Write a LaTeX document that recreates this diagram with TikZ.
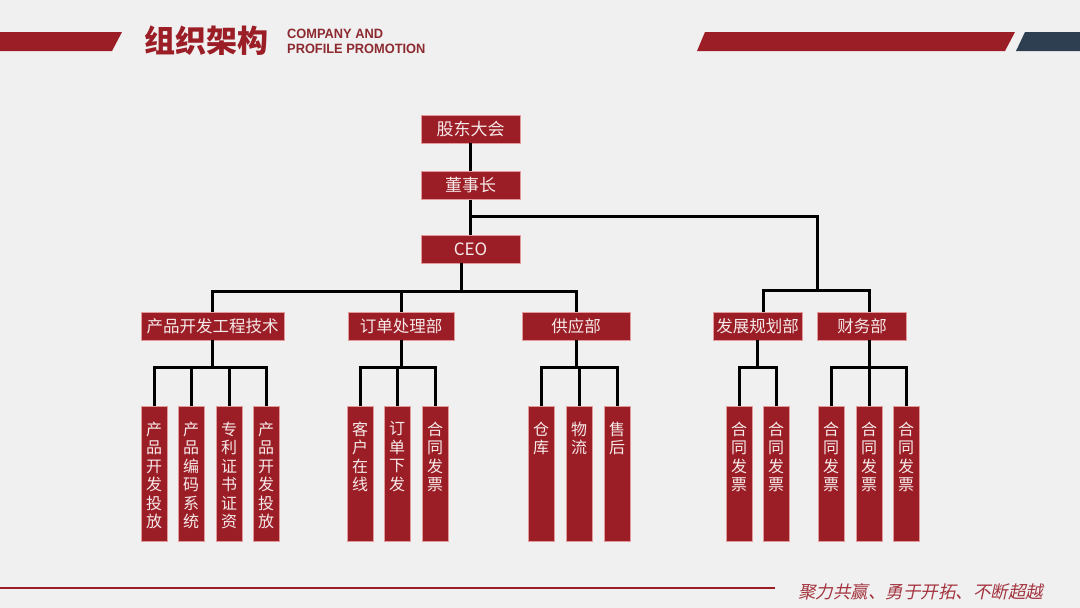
\documentclass[tikz,border=0pt]{standalone}
\usepackage{fontspec}
\setmainfont{Noto Sans CJK SC}
\newfontfamily\entitle[FakeStretch=0.95]{Liberation Sans}
\newfontfamily\slogan[FakeSlant=0.22]{Noto Sans CJK SC}
\usetikzlibrary{positioning}
\definecolor{page}{HTML}{F0F0F0}
\definecolor{crimson}{HTML}{9B1E26}
\definecolor{maroon}{HTML}{8C2A30}
\definecolor{rim}{HTML}{E29A9A}
\definecolor{slate}{HTML}{2F3F52}
\definecolor{ink}{HTML}{F6E9E9}
\definecolor{motto}{HTML}{A3343F}
\tikzset{unit/.style={fill=crimson,draw=rim,line width=.5pt,inner sep=0pt,minimum height=28,text=ink,font=\fontsize{16.5}{16.5}\selectfont},leaf/.style={unit,anchor=north,minimum width=26,minimum height=135,font=\fontsize{16}{18.5}\selectfont},link/.style={draw=black,line width=3pt}}
\newcommand\vcol[1]{\parbox[c][104pt][t]{26pt}{\centering #1}}

\begin{document}
\begin{tikzpicture}[x=1pt,y=-1pt,node distance=28pt]
\fill[page] (0,0) rectangle (1080,608);
\useasboundingbox (0,0) rectangle (1080,608);
\fill[crimson] (0,32) -- (122,32) -- (112,51) -- (0,51) -- cycle;
\fill[crimson] (705,32) -- (1015,32) -- (1005,51) -- (697,51) -- cycle;
\fill[slate] (1025,32) -- (1080,32) -- (1080,51) -- (1016,51) -- cycle;
\draw[crimson,line width=2pt] (0,588) -- (775,588);
\node[anchor=north west,inner sep=0pt,text=crimson,font=\bfseries\fontsize{31}{31}\selectfont] (title) at (144,26) {组织架构};
\node[anchor=north west,inner sep=0pt,align=left,text=maroon,font=\entitle\bfseries\fontsize{13.5}{15.5}\selectfont] (subtitle) at (287,28.5) {COMPANY AND\\PROFILE PROMOTION};
\node[anchor=west,inner sep=0pt,text=motto,font=\slogan\fontsize{17.5}{17.5}\selectfont] (motto) at (798,592) {聚力共赢、勇于开拓、不断超越};
\node[unit,minimum width=99,font=\fontsize{17}{17}\selectfont] (gd) at (470.5,129) {股东大会};
\node[unit,minimum width=99,font=\fontsize{17}{17}\selectfont,below=of gd] (dsz) {董事长};
\node[unit,minimum width=99,font=\fontsize{17}{17}\selectfont,below=35pt of dsz] (ceo) {CEO};
\node[unit,minimum width=143] (pd) at (212.5,326) {产品开发工程技术};
\node[unit,minimum width=106] (dd) at (401,326) {订单处理部};
\node[unit,minimum width=108] (gy) at (576,326) {供应部};
\node[unit,minimum width=89] (fz) at (757.5,326) {发展规划部};
\node[unit,minimum width=89] (cw) at (862,326) {财务部};
\foreach \n/\x/\w in {p1/154/产\\品\\开\\发\\投\\放,p2/191/产\\品\\编\\码\\系\\统,p3/229/专\\利\\证\\书\\证\\资,p4/266/产\\品\\开\\发\\投\\放,d1/360/客\\户\\在\\线,d2/397/订\\单\\下\\发,d3/435/合\\同\\发\\票,g1/541/仓\\库,g2/579/物\\流,g3/617/售\\后,f1/739/合\\同\\发\\票,f2/776/合\\同\\发\\票,c1/831/合\\同\\发\\票,c2/869/合\\同\\发\\票,c3/906/合\\同\\发\\票}
  \node[leaf] (\n) at (\x,406) {\vcol{\w}};
\coordinate[below=17pt of dsz] (hub);
\coordinate (rise) at (817,290);
\coordinate (drop) at ([xshift=-9pt]ceo.south);
\draw[link] (gd.south) -- (dsz.north);
\draw[link] (dsz.south) -- (ceo.north);
\draw[link] (hub) -| (rise);
\draw[link] ([xshift=6pt]fz.north) |- (rise) -| (c2.north |- cw.north);
\foreach \d in {pd,dd,gy}\draw[link] (drop) -- ++(0,28) -| (\d.north);
\foreach \u/\l in {pd/p1,pd/p2,pd/p3,pd/p4,dd/d1,dd/d2,dd/d3,gy/g1,gy/g2,gy/g3,fz/f1,fz/f2}\draw[link] (\u.south) -- ++(0,27) -| (\l.north);
\foreach \l in {c1,c2,c3}\draw[link] (cw.south -| c2.north) -- ++(0,27) -| (\l.north);
\end{tikzpicture}
\end{document}
